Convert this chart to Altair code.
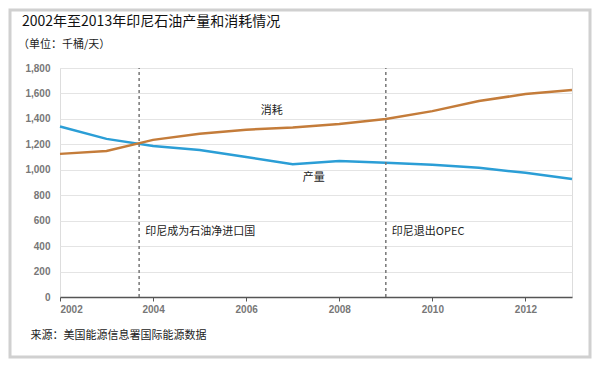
import altair as alt
import pandas as pd

years = list(range(2002, 2014))
production = [1340, 1243, 1187, 1155, 1101, 1043, 1069, 1056, 1040, 1016, 976, 928]
consumption = [1125, 1147, 1235, 1283, 1315, 1333, 1360, 1400, 1461, 1541, 1595, 1627]
series_names = ["产量", "消耗"]
series_colors = ["#2b9ed6", "#c47c3a"]

event_years = [2003.7, 2009.0]
event_labels = ["印尼成为石油净进口国", "印尼退出OPEC"]
event_label_y = [510, 510]

series_label_x = [2007.45, 2006.55]
series_label_y = [935, 1462]

y_ticks = [0, 200, 400, 600, 800, 1000, 1200, 1400, 1600, 1800]
x_ticks = [2002, 2004, 2006, 2008, 2010, 2012]

title_text = "2002年至2013年印尼石油产量和消耗情况"
subtitle_text = "（单位：千桶/天）"
source_text = "来源：美国能源信息署国际能源数据"

W, H = 512, 229
FONT = "Noto Sans CJK SC"

rows = []
for y, p, c in zip(years, production, consumption):
    rows.append({"year": y, "value": p, "series": series_names[0]})
    rows.append({"year": y, "value": c, "series": series_names[1]})
df = pd.DataFrame(rows)

ev = pd.DataFrame({"year": event_years, "label": event_labels, "value": event_label_y,
                   "lo": [0, 0], "hi": [1800, 1800]})
sl = pd.DataFrame({"year": series_label_x, "value": series_label_y, "label": series_names})

xscale = alt.Scale(domain=[2002, 2013], nice=False, zero=False)
yscale = alt.Scale(domain=[0, 1800], nice=False)

xaxis = alt.Axis(values=x_ticks, format="d", grid=False, domainColor="#555",
                 domainWidth=1.5, tickColor="#555", tickSize=4,
                 labelColor="#777", labelFontWeight="bold", labelFontSize=10,
                 labelFont="Liberation Sans", labelPadding=3, labelOverlap=False,
                 title=source_text, titleFont=FONT, titleFontSize=11,
                 titleFontWeight="normal", titleColor="#222",
                 titleAnchor="start", titleAlign="left", titleX=-30, titleY=38,
                 titleBaseline="middle")
yaxis = alt.Axis(values=y_ticks, format=",.0f", domain=False, ticks=False,
                 gridColor="#e4e4e4", gridWidth=1.2, labelOverlap=False,
                 labelColor="#777", labelFontWeight="bold", labelFontSize=10,
                 labelFont="Liberation Sans", labelPadding=10, title=None)

X = alt.X("year:Q", scale=xscale, axis=xaxis)
Y = alt.Y("value:Q", scale=yscale, axis=yaxis)

lines = alt.Chart(df).mark_line(strokeWidth=2.5).encode(
    x=X, y=Y,
    color=alt.Color("series:N", scale=alt.Scale(domain=series_names, range=series_colors),
                    legend=None),
)

rules = alt.Chart(ev).mark_rule(strokeDash=[3, 3], color="#777", strokeWidth=1.5).encode(
    x=X, y=alt.Y("lo:Q", scale=yscale, axis=yaxis), y2="hi:Q")

ev_text = alt.Chart(ev).mark_text(align="left", dx=6, font=FONT, fontSize=11,
                                  color="#222").encode(x=X, y=Y, text="label:N")

s_text = alt.Chart(sl).mark_text(font=FONT, fontSize=11, color="#222").encode(
    x=X, y=Y, text="label:N")

one = pd.DataFrame({"k": [0]})
title_mark = alt.Chart(one).mark_text(
    text=title_text, font=FONT, fontSize=14, color="#111", align="left",
    baseline="middle", clip=False).encode(x=alt.value(-38), y=alt.value(-46))
subtitle_mark = alt.Chart(one).mark_text(
    text=subtitle_text, font=FONT, fontSize=11, color="#222", align="left",
    baseline="middle", clip=False).encode(x=alt.value(-42), y=alt.value(-23))

border = alt.Chart(one).mark_rect(
    filled=False, stroke="#d0d0d0", strokeWidth=3, clip=False).encode(
    x=alt.value(-50), x2=alt.value(530), y=alt.value(-58), y2=alt.value(289))

chart = alt.layer(lines, rules, ev_text, s_text, title_mark, subtitle_mark, border).properties(
    width=W, height=H,
    autosize=alt.AutoSizeParams(type="none"),
    padding={"left": 52, "top": 60, "right": 20, "bottom": 62},
).configure_view(stroke=None).configure(background="white")

chart.save("out.html", embed_options={"renderer": "svg", "actions": False})
